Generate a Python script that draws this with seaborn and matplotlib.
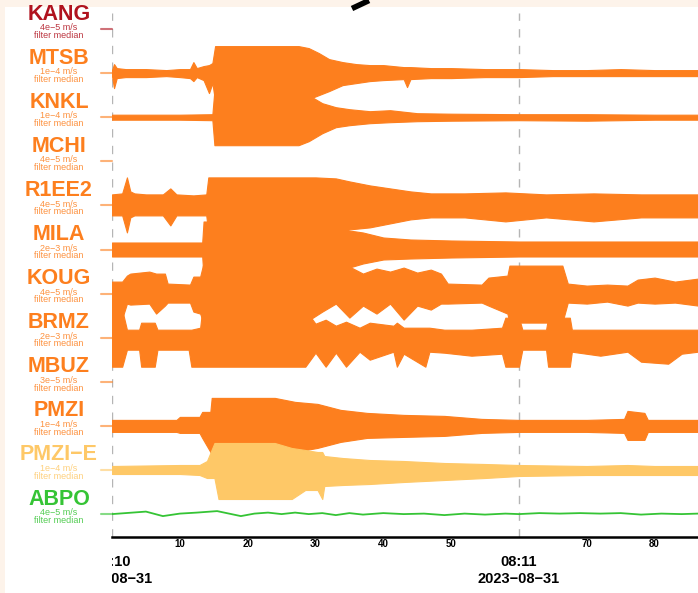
import numpy as np
import matplotlib
matplotlib.use("Agg")
import matplotlib.pyplot as plt
from matplotlib.lines import Line2D
from matplotlib.patches import Rectangle
from matplotlib.ticker import MultipleLocator
import matplotlib.transforms as mtransforms
import seaborn as sns

sns.set_style("white")
plt.rcParams['font.family'] = ['Liberation Sans', 'DejaVu Sans']

# stations, top to bottom
STATIONS = ["KANG", "MTSB", "KNKL", "MCHI", "R1EE2", "MILA", "KOUG",
            "BRMZ", "MBUZ", "PMZI", "PMZI\u2212E", "ABPO"]
SCALES = ["4e\u22125 m/s", "1e\u22124 m/s", "1e\u22124 m/s", "4e\u22125 m/s",
          "4e\u22125 m/s", "2e\u22123 m/s", "4e\u22125 m/s", "2e\u22123 m/s",
          "3e\u22125 m/s", "1e\u22124 m/s", "1e\u22124 m/s", "4e\u22125 m/s"]
COLORS = ["#b0121e", "#fd7f1e", "#fd7f1e", "#fd7f1e", "#fd7f1e", "#fd7f1e",
          "#fd7f1e", "#fd7f1e", "#fd7f1e", "#fd7f1e", "#fec867", "#35c435"]

# envelopes: (seconds after 08:10:00, upper amplitude, lower amplitude)
MTSB_ENV = [(0, 3, 3), (0.3, 9, 15), (0.7, 5, 5), (2, 4, 4), (5, 4, 4), (8, 3, 3),
            (10, 4, 4), (11.5, 4, 5), (12, 11, 8), (12.5, 5, 4), (13.5, 7, 7),
            (14.3, 8, 20), (14.8, 10, 10), (15.2, 27, 28), (27.5, 27, 28),
            (29, 25, 26), (30.5, 20, 22), (32, 14, 18), (34, 11, 12), (36, 9, 10),
            (38, 8, 8), (40, 8, 7), (43, 6, 6), (43.5, 6, 14), (44, 6, 6), (47, 5, 5),
            (50, 5, 5), (55, 4, 4), (60, 4, 4), (65, 3, 3), (70, 3, 3), (75, 4, 3),
            (80, 3, 3), (86.4, 3, 3)]
KNKL_ENV = [(0, 2.5, 2.5), (5, 2.5, 2.5), (10, 2.5, 2.5), (14.8, 3, 3), (15.1, 27, 28),
            (27.5, 27, 28), (29, 22, 24), (31, 14, 16), (33, 10, 10), (35, 8, 8),
            (38, 6, 6), (41, 7, 5), (45, 4, 4), (50, 3.5, 3.5), (60, 3, 3), (70, 3, 3.5),
            (80, 2.5, 2.5), (86.4, 2.5, 2.5)]
R1EE2_ENV = [(0, 11, 10), (1.5, 12, 10), (2.2, 28, 27), (2.7, 14, 12), (3.3, 12, 10),
             (5, 11, 10), (7.5, 11, 10), (8.6, 17, 20), (9.5, 11, 10), (12, 10, 10),
             (13.9, 11, 10), (14.2, 28, 28), (27.5, 28, 28), (30, 28, 28), (33, 27, 28),
             (35, 24, 24), (38, 20, 22), (41, 17, 18), (44, 14, 14), (47, 12, 12),
             (52, 12, 12), (58, 13, 16), (64, 11, 12), (71, 12, 16), (78, 11, 12),
             (86.4, 11, 12)]
MILA_ENV = [(0, 7, 7), (13.3, 7, 7), (13.5, 28, 28), (28, 28, 28), (31, 24, 26),
            (34, 20, 20), (37, 17, 14), (40, 12, 10), (44, 10, 9), (50, 9, 8),
            (60, 8, 7), (70, 8, 7), (80, 8, 7), (86.4, 8, 7)]
KOUG_ENV = [(0, 12, 25), (1.5, 12, 25), (2.2, 18, 10), (2.7, 20, 11), (5.5, 22, 10),
            (6.5, 20, 20), (7.8, 20, 12), (8.2, 10, 9), (11.5, 9, 9), (12.0, 17, 18),
            (13.0, 17, 20), (13.4, 28, 28), (28.7, 28, 28), (31, 26, 18), (33, 22, 10),
            (35, 27, 24), (37, 20, 12), (39, 25, 20), (41, 22, 10), (43, 26, 26),
            (45, 21, 12), (47, 24, 16), (48.5, 20, 10), (49.5, 10, 10), (54.5, 9, 9),
            (55.5, 16, 12), (58.3, 18, 20), (58.6, 28, 29), (66.4, 28, 29), (67.2, 10, 9),
            (70, 8, 10), (73, 9, 8), (76, 8, 12), (77.5, 14, 9), (80, 16, 10),
            (83, 12, 9), (86.4, 15, 12)]
BRMZ_ENV = [(0, 28, 29), (1.5, 28, 29), (2.2, 8, 12), (4, 8, 12), (4.3, 15, 29),
            (6.3, 15, 29), (6.7, 8, 12), (11.3, 8, 12), (11.7, 8, 29), (13, 10, 29),
            (13.3, 28, 29), (28.5, 28, 29), (30, 14, 15), (31.5, 18, 29), (33, 12, 15),
            (34.5, 16, 29), (36.5, 10, 14), (38, 15, 22), (41.5, 12, 14), (42, 15, 29),
            (43, 10, 16), (46.2, 10, 29), (46.8, 10, 14), (49, 8, 15), (53, 8, 18),
            (57.5, 10, 16), (58, 20, 29), (60, 20, 29), (60.5, 8, 12), (64, 8, 12),
            (64.3, 20, 29), (67.5, 20, 29), (67.8, 8, 14), (72, 8, 18), (76, 8, 14),
            (78, 8, 24), (82, 8, 26), (84, 8, 16), (86.4, 8, 14)]
PMZI_ENV = [(0, 6, 6), (9.5, 6, 6), (10, 9, 7), (12.9, 9, 7), (13.3, 14, 12),
            (14.5, 14, 26), (14.7, 28, 28), (24, 28, 28), (27, 24, 26), (30.3, 22, 22),
            (33.7, 16, 16), (37.6, 13, 12), (43, 11, 11), (49, 10, 10), (54.5, 7, 7),
            (60, 6, 6), (70, 6, 6), (75.5, 7, 7), (76, 15, 14), (78.5, 13, 14),
            (79, 6, 6), (86.4, 6, 6)]
PMZI_E_ENV = [(0, 4, 4), (10, 5, 4), (12.9, 5, 5), (14, 9, 8), (15.1, 27, 8),
              (15.7, 27, 29), (24, 27, 29), (26.5, 22, 29), (28.5, 20, 20), (30.3, 18, 20),
              (31, 18, 29), (31.3, 14, 16), (34, 12, 15), (38, 10, 14), (43, 9, 12),
              (49, 7, 10), (55, 6, 8), (60, 5, 6), (70, 4, 5), (76, 5, 5), (80, 4, 5),
              (86.4, 4, 5)]
ABPO_T = [0, 2, 5, 7.5, 10, 12.5, 15.5, 19, 21, 23, 25, 27, 29, 31, 33, 35, 37, 40,
          43, 46, 49, 52, 55, 58, 60, 63, 66, 69, 72, 75, 78, 81, 84, 86.4]
ABPO_V = [0, 1, 2.5, -2, 0.5, 1.5, 3, -2, 0.5, 1.5, 0, 1.5, 0, 1, -1, 1, -0.5, 1,
          0, 0.5, -1, 0.5, -0.5, 0.5, 0, 1, 0.5, 1, 0.5, 1, -0.5, 0.5, 0, 0.5]

ENVELOPES = {"MTSB": MTSB_ENV, "KNKL": KNKL_ENV, "R1EE2": R1EE2_ENV, "MILA": MILA_ENV,
             "KOUG": KOUG_ENV, "BRMZ": BRMZ_ENV, "PMZI": PMZI_ENV,
             "PMZI\u2212E": PMZI_E_ENV}

W, H = 698, 593
fig = plt.figure(figsize=(W / 100, H / 100), dpi=100, facecolor="#fdf3ea")
fig.add_artist(Rectangle((5 / W, 0), 1, (H - 7) / H, transform=fig.transFigure,
                         facecolor="white", edgecolor="none", zorder=0))
fig.add_artist(Line2D([352 / W, 369 / W], [1 - 8.5 / H, 1 - 0.5 / H], color="black",
                      lw=4, solid_capstyle="butt", transform=fig.transFigure))

ax = fig.add_axes([112 / W, 1 - 537 / H, (W - 112) / W, (537 - 10) / H])
ax.set_facecolor("none")
ax.set_xlim(0, 86.4)
ax.set_ylim(-537, -10)

BASE0, STEP = 29, 44.1
trans_lab = mtransforms.blended_transform_factory(fig.transFigure, ax.transData)

for i, (name, scale, col) in enumerate(zip(STATIONS, SCALES, COLORS)):
    base = -(BASE0 + STEP * i)
    # station label block
    ax.text(59 / W, base + 15, name, transform=trans_lab, ha="center", va="center",
            fontsize=15.5, fontweight="bold", color=col)
    ax.text(59 / W, base - 2.5, scale + "\nfilter median", transform=trans_lab,
            ha="center", va="center", fontsize=6.5, linespacing=0.8,
            color=col, alpha=0.85)
    ax.add_line(Line2D([101 / W, 112 / W], [base, base], transform=trans_lab,
                       color=col, alpha=0.6, lw=1.5, clip_on=False))
    if name in ENVELOPES:
        env = np.array(ENVELOPES[name], dtype=float)
        ax.fill_between(env[:, 0], base + env[:, 1], base - env[:, 2], color=col,
                        lw=0.8, zorder=2 + i * 0.01)

# ABPO trace as a line
abpo_base = -(BASE0 + STEP * 11)
sns.lineplot(x=ABPO_T, y=np.array(ABPO_V) + abpo_base, ax=ax, color=COLORS[11],
             lw=1.3, zorder=3)

# minute markers
for t in (0, 60):
    ax.axvline(t, ymin=0, ymax=0.995, color="#b5b5b5", lw=1, ls=(0, (6, 6)), zorder=1)

for side in ("top", "left", "right"):
    ax.spines[side].set_visible(False)
ax.spines["bottom"].set_linewidth(1.8)
ax.spines["bottom"].set_color("black")
ax.set_yticks([])
ax.set_xticks(np.arange(0, 81, 10))
ax.set_xticklabels(["", "10", "20", "30", "40", "50", "", "70", "80"],
                   fontsize=7, fontweight="bold")
ax.xaxis.set_minor_locator(MultipleLocator(1))
ax.tick_params(axis="x", which="major", direction="in", length=7, width=1.4,
               pad=1.5, colors="black")
ax.tick_params(axis="x", which="minor", direction="in", length=5, width=0.8,
               colors="#333333")

# time/date labels under the minute marks
clip = Rectangle((112 / W, 0), 1, 1, transform=fig.transFigure)
trans_x = mtransforms.blended_transform_factory(ax.transData, fig.transFigure)
for t, hm in ((0, "08:10"), (60, "08:11")):
    t1 = ax.text(t, 1 - 562 / H, hm, transform=trans_x, ha="center", va="center",
                 fontsize=10.5, fontweight="bold", color="black")
    t2 = ax.text(t, 1 - 579 / H, "2023-08-31".replace("-", "\u2212"), transform=trans_x,
                 ha="center", va="center", fontsize=10.5, fontweight="bold",
                 color="black")
    for tx in (t1, t2):
        tx.set_clip_path(clip)
        tx.set_clip_on(True)

fig.savefig("out.png", dpi=100)
